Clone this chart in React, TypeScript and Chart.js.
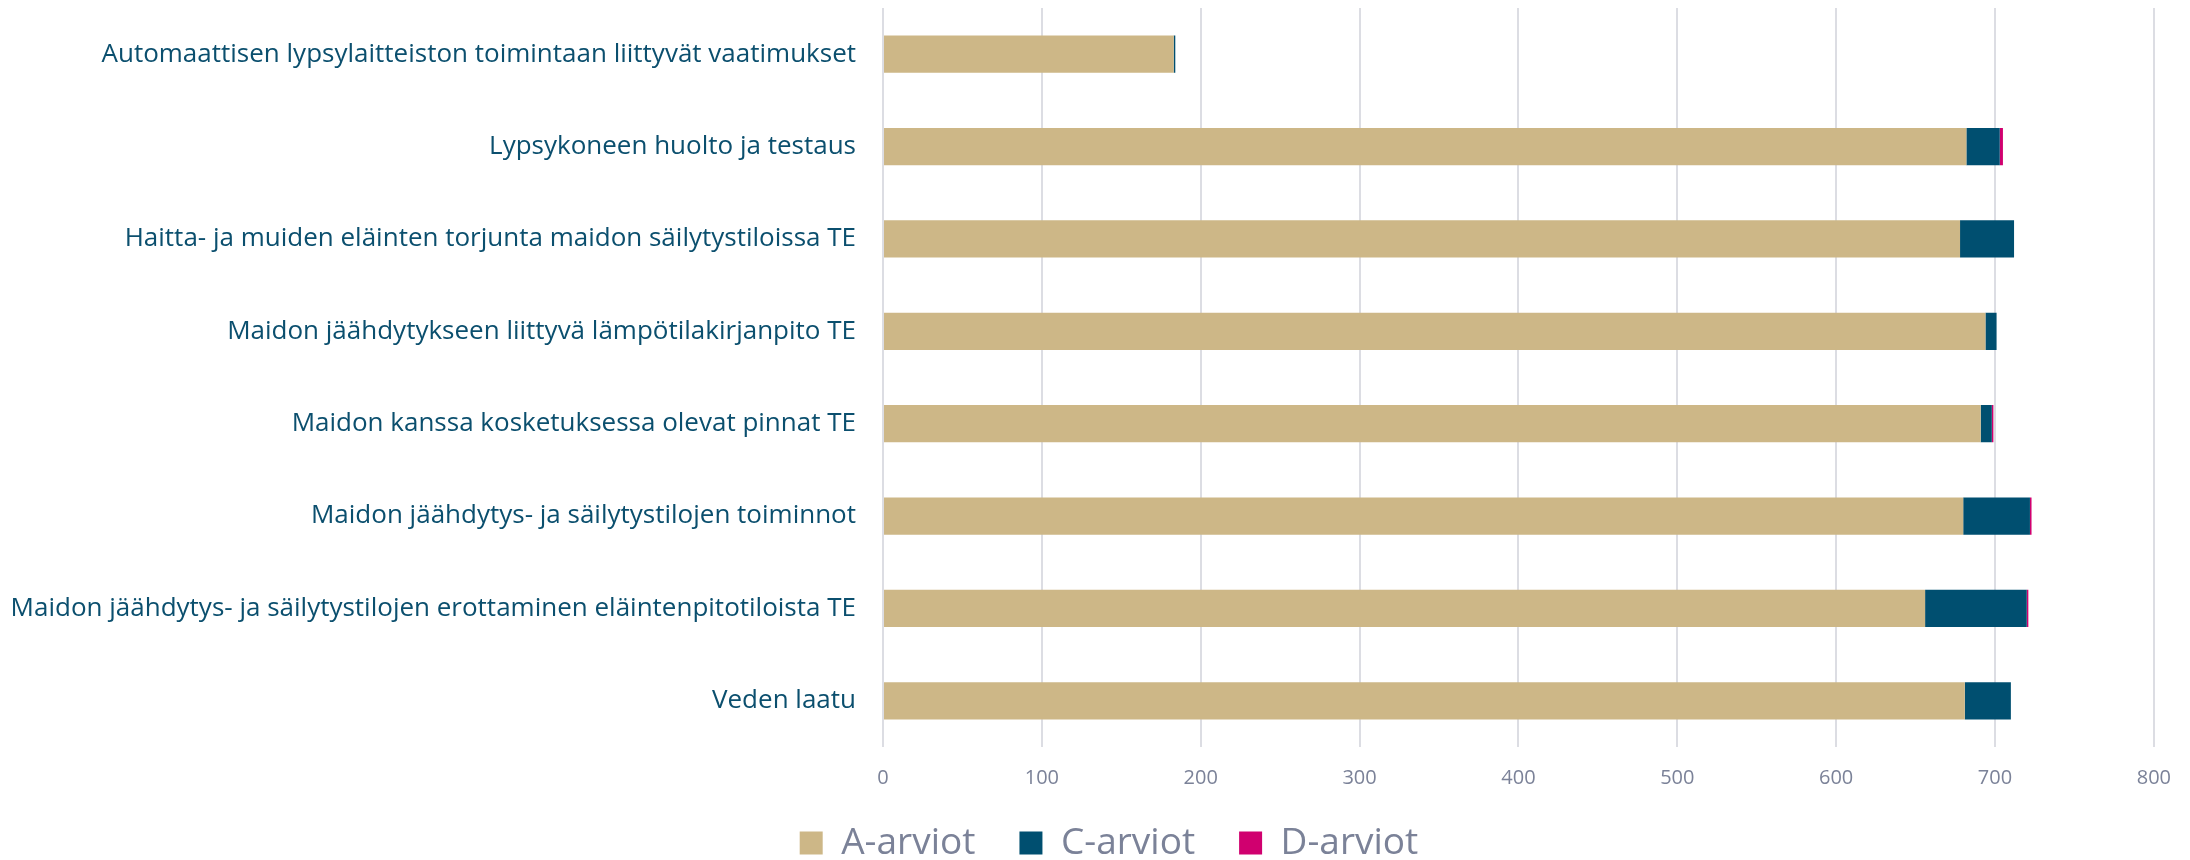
import React, { useEffect, useRef } from "react";
import { Chart, registerables } from "chart.js";

Chart.register(...registerables);

const categories = [
  "Automaattisen lypsylaitteiston toimintaan liittyvät vaatimukset",
  "Lypsykoneen huolto ja testaus",
  "Haitta- ja muiden eläinten torjunta maidon säilytystiloissa TE",
  "Maidon jäähdytykseen liittyvä lämpötilakirjanpito TE",
  "Maidon kanssa kosketuksessa olevat pinnat TE",
  "Maidon jäähdytys- ja säilytystilojen toiminnot",
  "Maidon jäähdytys- ja säilytystilojen erottaminen eläintenpitotiloista TE",
  "Veden laatu",
];

const aArviot = [183, 682, 678, 694, 691, 680, 656, 681];
const cArviot = [1, 21, 34, 7, 7, 42, 64, 29];
const dArviot = [0, 2, 0, 0, 1, 1, 1, 0];

const seriesNames = ["A-arviot", "C-arviot", "D-arviot"];
const seriesColors = ["#cdb787", "#004f70", "#d0006f"];

const xTicks = [0, 100, 200, 300, 400, 500, 600, 700, 800];

const legendShift = {
  id: "legendShift",
  afterLayout(chart: any) {
    const lg: any = chart.legend;
    if (!lg) return;
    lg.left += 14;
    lg.right += 14;
    lg.top -= 9.5;
    lg.bottom -= 9.5;
  },
};

export default function App() {
  const ref = useRef<HTMLCanvasElement | null>(null);

  useEffect(() => {
    document.body.style.margin = "0";
    const canvas = ref.current;
    if (!canvas) return;
    const chart = new Chart(canvas, {
      type: "bar",
      data: {
        labels: categories,
        datasets: [aArviot, cArviot, dArviot].map((d, i) => ({
          label: seriesNames[i],
          data: d,
          backgroundColor: seriesColors[i],
          borderWidth: 0,
          barPercentage: 0.404,
          categoryPercentage: 1,
        })),
      },
      plugins: [legendShift],
      options: {
        indexAxis: "y",
        responsive: false,
        animation: false,
        maintainAspectRatio: false,
        layout: { padding: { top: 8, right: 0, left: 0, bottom: -21 } },
        plugins: {
          tooltip: { enabled: false },
          legend: {
            position: "bottom",
            labels: {
              boxWidth: 23,
              boxHeight: 23,
              padding: 44,
              color: "#7b8298",
              font: { family: "'Open Sans'", size: 37 },
            },
          },
        },
        scales: {
          x: {
            stacked: true,
            min: 0,
            max: 800,
            afterBuildTicks: (scale: any) => {
              scale.ticks = xTicks.map((v) => ({ value: v }));
            },
            afterFit: (scale: any) => {
              scale.height = 43;
            },
            grid: {
              color: "#dcdde3",
              lineWidth: 2,
              drawTicks: false,
            },
            border: { display: false },
            ticks: {
              padding: 19,
              color: "#7b8298",
              font: { family: "'Open Sans'", size: 20 },
            },
          },
          y: {
            stacked: true,
            grid: { display: false, drawTicks: false },
            border: { display: false },
            afterFit: (scale: any) => {
              scale.width = 883;
              scale.paddingTop = 0;
              scale.paddingBottom = 0;
            },
            ticks: {
              padding: 27,
              color: "#0b4f6e",
              font: { family: "'Open Sans'", size: 26 },
            },
          },
        },
      },
    });
    return () => chart.destroy();
  }, []);

  return (
    <div style={{ width: 2190, height: 860 }}>
      <canvas ref={ref} width={2190} height={860} style={{ display: "block" }} />
    </div>
  );
}
